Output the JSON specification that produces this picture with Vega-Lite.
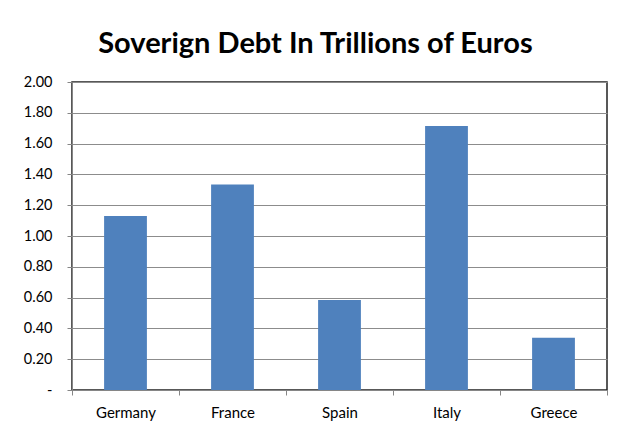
{
  "$schema": "https://vega.github.io/schema/vega-lite/v6.json",
  "width": 535,
  "height": 308,
  "autosize": {"type": "none"},
  "padding": {"left": 72, "top": 82, "right": 17, "bottom": 40},
  "background": "white",
  "title": {
    "text": "Soverign Debt In Trillions of Euros",
    "font": "Lato",
    "fontWeight": "bold",
    "fontSize": 29,
    "anchor": "middle",
    "frame": "bounds",
    "offset": 15,
    "color": "#000000"
  },
  "data": {
    "values": [
      {"country": "Germany", "debt": 1.13},
      {"country": "France", "debt": 1.335},
      {"country": "Spain", "debt": 0.585},
      {"country": "Italy", "debt": 1.715},
      {"country": "Greece", "debt": 0.34}
    ]
  },
  "mark": {"type": "bar", "width": {"band": 0.4}, "color": "#4F81BD"},
  "encoding": {
    "x": {
      "field": "country",
      "type": "nominal",
      "sort": null,
      "scale": {"paddingInner": 0, "paddingOuter": 0},
      "axis": {
        "title": null,
        "labelAngle": 0,
        "tickBand": "extent",
        "domainColor": "#868686",
        "tickColor": "#868686",
        "tickSize": 5,
        "labelPadding": 10,
        "labelFont": "Lato",
        "labelFontSize": 15,
        "labelColor": "#000000"
      }
    },
    "y": {
      "field": "debt",
      "type": "quantitative",
      "scale": {"domain": [0, 2], "nice": false},
      "axis": {
        "title": null,
        "values": [0, 0.2, 0.4, 0.6, 0.8, 1.0, 1.2, 1.4, 1.6, 1.8, 2.0],
        "labelExpr": "datum.value == 0 ? '-\u00a0\u00a0\u00a0\u00a0' : format(datum.value, '.2f')",
        "gridColor": "#8c8c8c",
        "domainColor": "#868686",
        "tickColor": "#868686",
        "tickSize": 5,
        "labelPadding": 15,
        "labelFont": "Lato",
        "labelFontSize": 14.5,
        "labelColor": "#000000"
      }
    }
  },
  "config": {"view": {"stroke": "#222222", "strokeWidth": 1.5}}
}
